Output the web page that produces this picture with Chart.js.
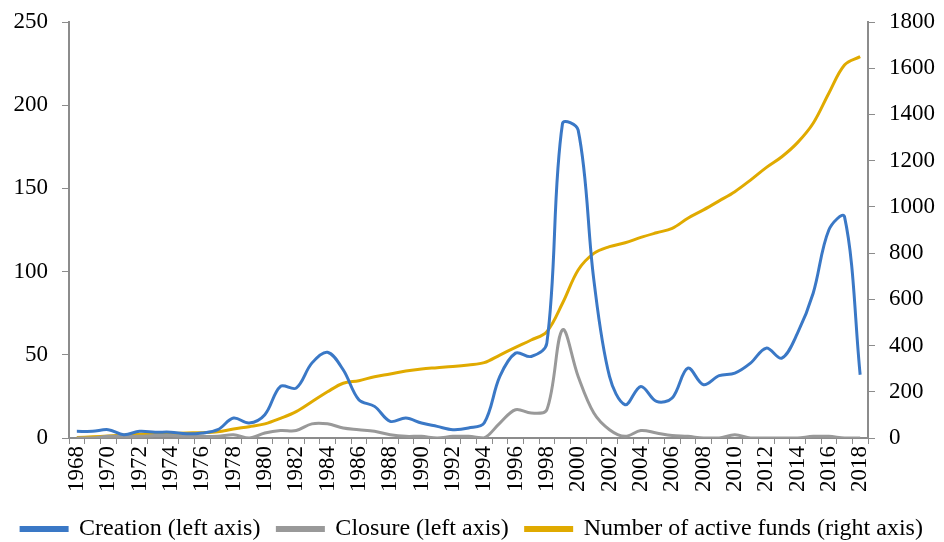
<!DOCTYPE html>
<html>
<head>
<meta charset="utf-8">
<script src="https://cdn.jsdelivr.net/npm/chart.js@4/dist/chart.umd.min.js"></script>
<style>
  html, body { margin: 0; padding: 0; background: #fff; }
  #wrap { width: 944px; height: 542px; }
</style>
</head>
<body>
<div id="wrap"><canvas id="funds"></canvas></div>
<script>
var years = [];
for (var y = 1968; y <= 2018; y++) years.push(String(y));

// left axis
var creation = [4,4,5,2,4,3.5,3.5,2.5,3,5,12,9,14,31,30,45,51.5,41,23,19,10,12,9,7,5,6,9,37,51,49,57,189,185,95,37,20,31,22,24,42,32,37.5,39,45,54,48,63,87,125,133,38];
var closure = [0,0,1,1,1,1.5,1.5,1,1,1,2,0,3,4.5,4.5,8.5,8.5,6,5,4,2,1,1,0,1,1,0,9,17,15,17,65,37,15,5,1,4.5,3,1.5,1,0,0,2,0,0,0,0,1,1,0,0];
// right axis
var activeFunds = [2,5,9,13,16,18,20,22,23,27,39,49,61,85,114,157,200,237,248,265,277,290,299,304,309,316,326,359,392,424,460,583,727,799,828,845,868,888,907,951,987,1026,1066,1116,1170,1217,1278,1362,1492,1614,1650];

var FONT = 'Liberation Serif, "Times New Roman", serif';
var axisGray = '#8c8c8c';

Chart.defaults.font.family = FONT;
Chart.defaults.font.size = 23;
Chart.defaults.color = '#000';

function fixY(width) {
    return function (s) {
        s.width = width;
        s.paddingTop = 0;
        s.paddingBottom = 0;
    };
}

var ctx = document.getElementById('funds');
var chart = new Chart(ctx, {
    type: 'line',
    data: {
        labels: years,
        datasets: [
            {
                label: 'Creation (left axis)',
                data: creation,
                borderColor: '#3a78c6',
                backgroundColor: '#3a78c6',
                yAxisID: 'y'
            },
            {
                label: 'Closure (left axis)',
                data: closure,
                borderColor: '#999999',
                backgroundColor: '#999999',
                yAxisID: 'y'
            },
            {
                label: 'Number of active funds (right axis)',
                data: activeFunds,
                borderColor: '#e0aa00',
                backgroundColor: '#e0aa00',
                yAxisID: 'y2'
            }
        ]
    },
    options: {
        responsive: true,
        maintainAspectRatio: false,
        animation: false,
        layout: { padding: { top: 22, bottom: 0, left: 0, right: 0 } },
        elements: {
            line: { borderWidth: 3, tension: 0.35 },
            point: { radius: 0 }
        },
        plugins: {
            legend: {
                position: 'bottom',
                labels: {
                    boxWidth: 46,
                    boxHeight: 3,
                    padding: 17,
                    font: { size: 24 }
                }
            },
            tooltip: { enabled: false }
        },
        scales: {
            x: {
                offset: true,
                grid: {
                    display: true,
                    drawOnChartArea: false,
                    drawTicks: true,
                    tickLength: 6,
                    color: axisGray,
                    offset: true
                },
                border: { color: axisGray, width: 2 },
                ticks: {
                    autoSkip: false,
                    minRotation: 90,
                    maxRotation: 90,
                    padding: 2,
                    callback: function (val, i) {
                        return i % 2 === 0 ? this.getLabelForValue(val) : '';
                    }
                },
                afterFit: function (s) { s.height = 62; }
            },
            y: {
                position: 'left',
                min: 0,
                max: 250,
                ticks: { stepSize: 50, padding: 14 },
                grid: {
                    display: true,
                    drawOnChartArea: false,
                    tickLength: 7,
                    color: axisGray
                },
                border: { color: axisGray, width: 2 },
                afterFit: fixY(69)
            },
            y2: {
                position: 'right',
                min: 0,
                max: 1800,
                ticks: {
                    stepSize: 200,
                    padding: 14,
                    callback: function (v) { return String(v); }
                },
                grid: {
                    display: true,
                    drawOnChartArea: false,
                    tickLength: 7,
                    color: axisGray
                },
                border: { color: axisGray, width: 2 },
                afterFit: fixY(76)
            }
        }
    }
});

// legend sits lower in the reference, so keep its box short
var legendFit = chart.legend.fit;
chart.legend.fit = function () {
    legendFit.call(this);
    this.height = 42;
};
chart.update();
</script>
</body>
</html>
